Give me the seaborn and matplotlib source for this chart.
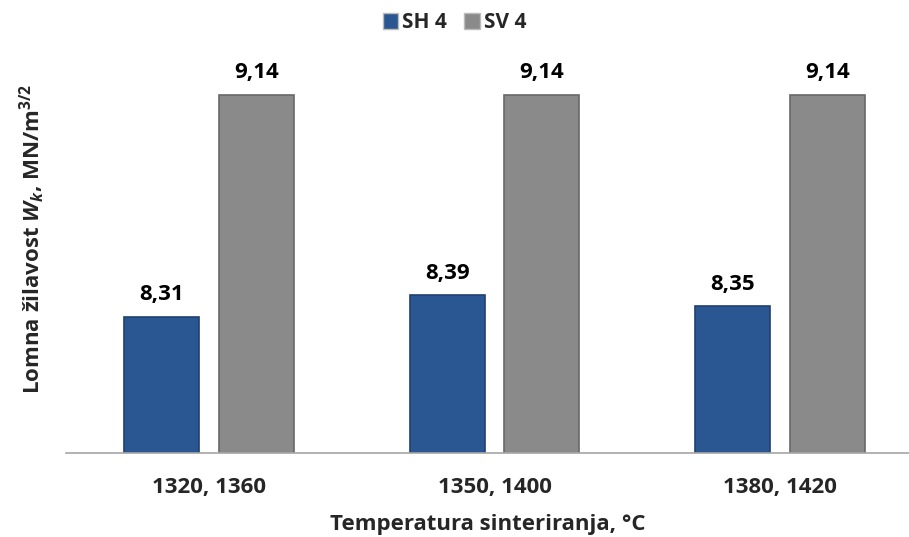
import matplotlib
matplotlib.use("Agg")
import matplotlib.pyplot as plt
import seaborn as sns
import pandas as pd
from matplotlib.patches import Patch

# podaci
temperature = ["1320, 1360", "1350, 1400", "1380, 1420"]
sh4 = [8.31, 8.39, 8.35]
sv4 = [9.14, 9.14, 9.14]
serije = ["SH 4", "SV 4"]
boje = ["#2A5792", "#8A8A8A"]

df = pd.DataFrame({
    "Temperatura": temperature * 2,
    "Vrijednost": sh4 + sv4,
    "Serija": [serije[0]] * 3 + [serije[1]] * 3,
})

sns.set_theme(style="white")
plt.rcParams["font.family"] = ["Open Sans", "DejaVu Sans"]
plt.rcParams["font.weight"] = "bold"
plt.rcParams["mathtext.fontset"] = "custom"
plt.rcParams["mathtext.rm"] = "Open Sans:bold"
plt.rcParams["mathtext.it"] = "Open Sans:italic:bold"
plt.rcParams["mathtext.bf"] = "Open Sans:bold"

fig = plt.figure(figsize=(9.09, 5.37), dpi=100)
ax = fig.add_axes([66 / 909, 84 / 537, 1 - 66 / 909, 1 - 84 / 537 - 25 / 537])

sns.barplot(data=df, x="Temperatura", y="Vrijednost", hue="Serija",
            palette=boje, saturation=1, width=0.664, gap=0.21, ax=ax,
            legend=False, edgecolor="none")

# rubovi za efekt reljefa
for p in ax.patches:
    fc = p.get_facecolor()
    p.set_edgecolor([c * 0.75 for c in fc[:3]])
    p.set_linewidth(1.2)

ax.set_ylim(7.8, 9.4)
ax.set_xlim(-0.5, 2.451)

for cont in ax.containers:
    ax.bar_label(cont, labels=[f"{v:.2f}".replace(".", ",") for v in cont.datavalues],
                 padding=8, fontsize=16, fontweight="bold", color="black")

ax.set_yticks([])
ax.tick_params(axis="x", length=0, pad=17, labelsize=16)
for lbl in ax.get_xticklabels():
    lbl.set_fontweight("bold")
for s in ["top", "left", "right"]:
    ax.spines[s].set_visible(False)
ax.spines["bottom"].set_color("#A6A6A6")
ax.spines["bottom"].set_linewidth(1.2)

ax.set_xlabel("Temperatura sinteriranja, °C", fontsize=16, fontweight="bold", labelpad=12)
ax.set_ylabel(r"Lomna žilavost $\mathit{W}_{\mathit{k}}$, MN/m$^{3/2}$",
              fontsize=16, fontweight="bold", labelpad=14)

ruke = [Patch(facecolor=boje[i], edgecolor="#BBBBBB", label=serije[i]) for i in range(2)]
fig.legend(handles=ruke, loc="upper center", bbox_to_anchor=(0.5, 1.012), ncol=2,
           frameon=False, fontsize=15, handlelength=0.75, handleheight=0.75,
           handletextpad=0.2, columnspacing=0.8)

fig.savefig("out.png", dpi=100)
